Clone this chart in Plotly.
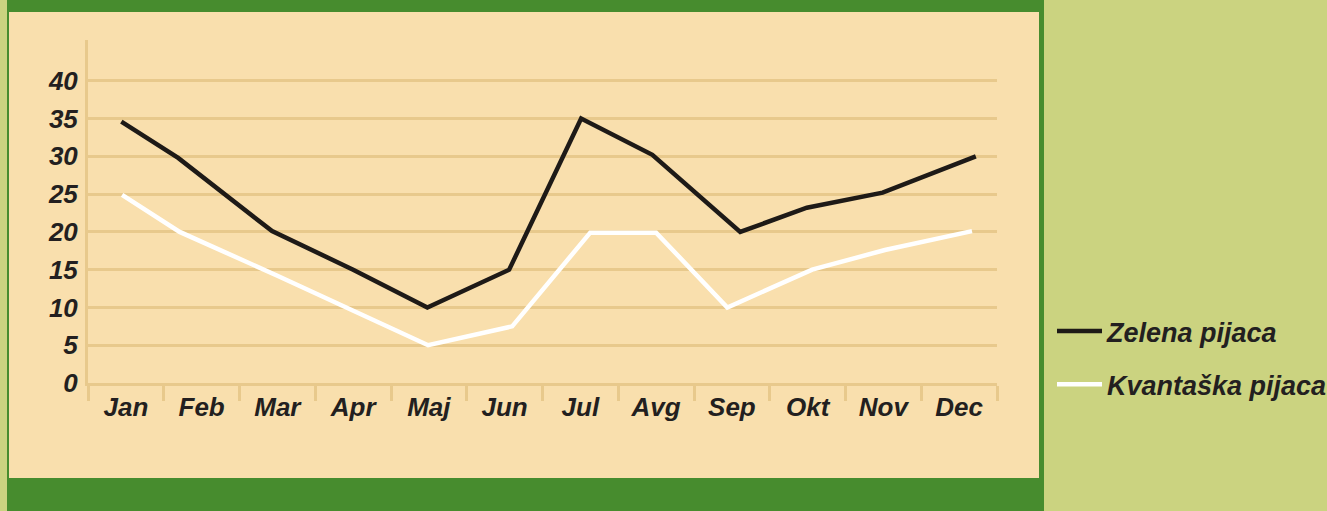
import plotly.graph_objects as go

months = ["Jan", "Feb", "Mar", "Apr", "Maj", "Jun", "Jul", "Avg", "Sep", "Okt", "Nov", "Dec"]
y_ticks = [0, 5, 10, 15, 20, 25, 30, 35, 40]

# position of each vertex along the month axis (0 = Jan centre) and its value
zelena_x = [-0.06, 0.69, 1.93, 3.0, 3.98, 5.06, 6.01, 6.95, 8.11, 8.99, 9.99, 11.22]
zelena_y = [34.6, 29.8, 20.1, 15.0, 10.0, 15.0, 35.0, 30.2, 20.0, 23.2, 25.2, 30.0]

kvantaska_x = [-0.05, 0.71, 2.0, 3.0, 3.99, 5.1, 6.13, 7.0, 7.94, 9.06, 10.02, 11.17]
kvantaska_y = [24.9, 20.0, 14.2, 9.6, 5.0, 7.5, 19.9, 19.9, 10.0, 15.0, 17.6, 20.1]

W, H = 1327, 511
BEIGE = "#F9DFAD"
GRID = "#E8C98C"
OLIVE = "#CBD380"
GREEN = "#478C2E"
TEXT = "#231F20"
FONT = "Liberation Sans"
FS = 26

fig = go.Figure()
fig.add_trace(go.Scatter(x=zelena_x, y=zelena_y, mode="lines", name="Zelena pijaca",
                         line=dict(color="#1E1A17", width=4.5), legendgroup="a"))
fig.add_trace(go.Scatter(x=kvantaska_x, y=kvantaska_y, mode="lines", name="Kvantaška pijaca",
                         line=dict(color="#FFFFFF", width=4.5), legendgroup="b"))


def px(x):
    return x / W


def py(y):
    return 1 - y / H


shapes = [
    dict(type="rect", xref="paper", yref="paper", x0=px(7), x1=px(1044), y0=0, y1=1,
         fillcolor=GREEN, line=dict(width=0), layer="below"),
    dict(type="rect", xref="paper", yref="paper", x0=px(9), x1=px(1039), y0=py(478), y1=py(12),
         fillcolor=BEIGE, line=dict(width=0), layer="below"),
]

tfont = dict(family=FONT, size=FS, color=TEXT, weight="bold", style="italic")

fig.update_layout(
    template="none",
    width=W, height=H,
    autosize=False,
    margin=dict(l=0, r=0, t=0, b=0, pad=0, autoexpand=False),
    paper_bgcolor=OLIVE,
    plot_bgcolor="rgba(0,0,0,0)",
    shapes=shapes,
    font=tfont,
    xaxis=dict(
        domain=[px(88), px(997)],
        range=[-0.5, 11.5],
        tickvals=list(range(12)), ticktext=months,
        ticks="", showgrid=False, zeroline=False, automargin=False,
        showline=True, linecolor=GRID, linewidth=3,
        ticklabelstandoff=-1,
        tickfont=tfont,
        minor=dict(tickvals=[i - 0.5 for i in range(13)], ticks="outside", ticklen=15,
                   tickwidth=3, tickcolor=GRID, showgrid=False),
        fixedrange=True,
    ),
    yaxis=dict(
        domain=[py(383), py(40)],
        range=[0, 45.4],
        tickvals=y_ticks,
        ticks="", showgrid=True, gridcolor=GRID, gridwidth=3, zeroline=False, automargin=False,
        showline=True, linecolor=GRID, linewidth=3,
        ticklabelstandoff=2,
        tickfont=tfont,
        fixedrange=True,
    ),
    showlegend=True,
    legend=dict(
        x=px(1052), xanchor="left", y=py(307), yanchor="top",
        bgcolor="rgba(0,0,0,0)",
        font=dict(family=FONT, size=27, color=TEXT, weight="bold", style="italic"),
        tracegroupgap=15,
        itemwidth=45,
    ),
)

post = (
    "var s=document.createElement('style');"
    "s.textContent='html,body{margin:0;padding:0;overflow:hidden;background:#CBD380;}';"
    "document.head.appendChild(s);"
)

fig.write_html("out.html", post_script=post, config={"displayModeBar": False})
